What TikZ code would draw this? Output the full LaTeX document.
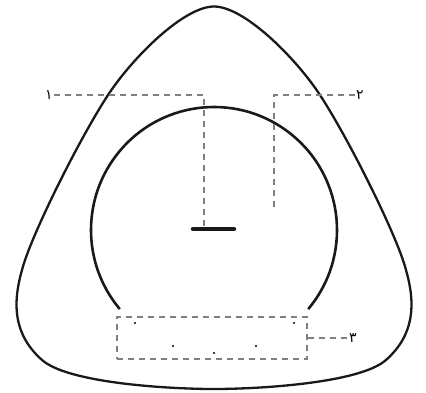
\documentclass[tikz,border=0pt]{standalone}
\usepackage{fontspec}
\newfontfamily\arabicfont[Script=Arabic]{DejaVu Sans}
\begin{document}
\begin{tikzpicture}[x=1pt,y=-1pt,
  outline/.style={line width=2.3pt, black!90},
  leader/.style={line width=1.4pt, black!50, dash pattern=on 6pt off 5pt},
  lbl/.style={font=\arabicfont\fontsize{14}{14}\selectfont, inner sep=1pt},
  dotmark/.style={circle, fill=black, inner sep=0pt, minimum size=2.4pt}]
\useasboundingbox (0,0) rectangle (426,392);
% outer rounded triangle
\draw[outline] (214,6.5) .. controls (244,6.5) and (295,57) .. (320,95)
  .. controls (350,141) and (398,238) .. (406,270)
  .. controls (416,305) and (414,335) .. (386,360)
  .. controls (360,383) and (260,389) .. (214,389)
  .. controls (168,389) and (68,383) .. (42,360)
  .. controls (14,335) and (12,305) .. (22,270)
  .. controls (30,238) and (78,141) .. (108,95)
  .. controls (133,57) and (184,6.5) .. (214,6.5) -- cycle;
% inner arc
\coordinate (c) at (214,230);
\draw[line width=2.6pt, black!90] ([shift={(40:123)}]c) arc[start angle=40, end angle=-220, radius=123];
% bar
\coordinate (barL) at (193,229);
\coordinate (barR) at (234,229);
\coordinate (barP) at (204,229);
\draw[line width=4.5pt, line cap=round, black!90] (barL) -- (barR);
% labels
\node[lbl] (l1) at (49,95) {۱};
\node[lbl] (l2) at (360,95) {۲};
\node[lbl] (l3) at (353,338) {۳};
\coordinate (p2) at (274,207);
\draw[leader] (l1.east) -| (barP);
\draw[leader] (l2.west) -| (p2);
% dashed box
\node[leader, draw, minimum width=190pt, minimum height=42pt, inner sep=0pt] (box) at (212,338) {};
\draw[leader] (box.east) -- (l3.west);
% dots
\foreach \n/\p in {d1/{(135,323)}, d2/{(173,346)}, d3/{(214,353)}, d4/{(256,346)}, d5/{(294,323)}}
  \node[dotmark] (\n) at \p {};
\end{tikzpicture}
\end{document}
